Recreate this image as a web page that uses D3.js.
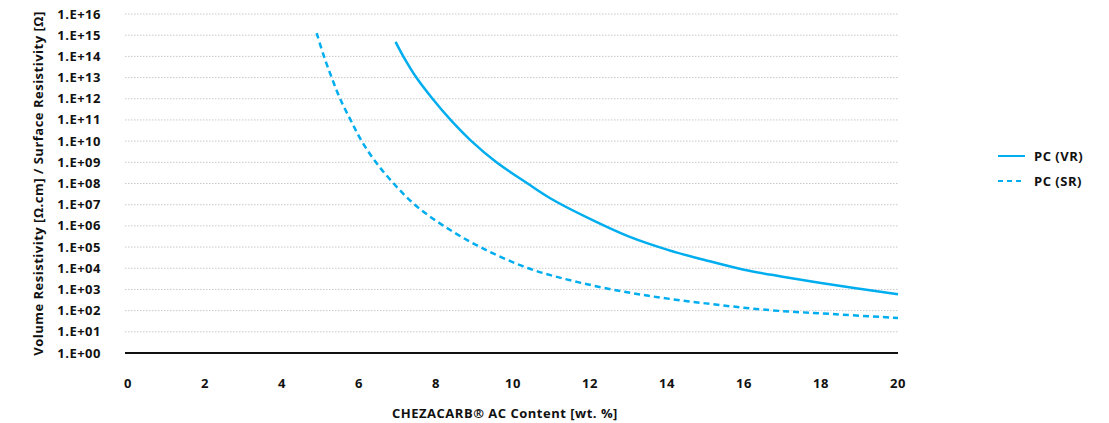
<!DOCTYPE html>
<html lang="en">

<head>
    <meta charset="UTF-8">
    <title>Resistivity</title>
    <script src="https://d3js.org/d3.v7.min.js"></script>
    <style>
        body { margin: 0; background: #fff; }
        text { font-family: "Open Sans", sans-serif; font-weight: 700; fill: #111; font-size: 13px; letter-spacing: 0.5px; }
    </style>
</head>

<body>
    <script>
        // wt.% content and read-off resistivity values
        var vrX = [6.95, 7.15, 7.49, 7.91, 8.38, 8.92, 9.57, 10.38, 11, 12, 13, 14, 15, 16, 17, 18, 19, 20];
        var vrY = [4.8e14, 1e14, 1e13, 1e12, 1e11, 1e10, 1e9, 1e8, 1.86e7, 2.14e6, 3.2e5, 7.6e4, 2.4e4, 8.5e3, 4e3, 2e3, 1.07e3, 5.9e2];
        var srX = [4.9, 5.09, 5.29, 5.51, 5.78, 6.07, 6.44, 6.9, 7.45, 8.2, 9.15, 10.4, 11.74, 13.3, 15, 16.68, 18.3, 20];
        var srY = [1.26e15, 1e14, 1e13, 1e12, 1e11, 1e10, 1e9, 1e8, 1e7, 1e6, 1e5, 1e4, 2.1e3, 5.8e2, 2.2e2, 1.05e2, 6.9e1, 4.5e1];
        var xTicks = [0, 2, 4, 6, 8, 10, 12, 14, 16, 18, 20];
        var yTicks = d3.range(0, 17).map(function (e) { return Math.pow(10, e); });
        var seriesNames = ["PC (VR)", "PC (SR)"];

        var width = 1109, height = 423;
        var mLeft = 128, mRight = 898, mTop = 14, mBottom = 353;
        var blue = "#00aeef";

        var svg = d3.select("body").append("svg")
            .attr("width", width)
            .attr("height", height);

        var x = d3.scaleLinear().domain([0, 20]).range([mLeft, mRight]);
        var y = d3.scaleLog().domain([1, 1e16]).range([mBottom, mTop]);

        // gridlines
        svg.append("g").selectAll("line")
            .data(yTicks.slice(1))
            .enter().append("line")
            .attr("x1", mLeft - 3).attr("x2", mRight)
            .attr("y1", d => y(d)).attr("y2", d => y(d))
            .attr("stroke", "#c8c8c8")
            .attr("stroke-dasharray", "1.5,1.5");

        // y tick labels
        svg.append("g").selectAll("text")
            .data(yTicks)
            .enter().append("text")
            .attr("x", 101)
            .attr("y", d => y(d))
            .attr("dy", "0.35em")
            .attr("text-anchor", "end")
            .text(d => "1.E+" + d3.format("02d")(Math.round(Math.log10(d))));

        // x tick labels
        svg.append("g").selectAll("text")
            .data(xTicks)
            .enter().append("text")
            .attr("x", d => x(d))
            .attr("y", 383)
            .attr("dy", "0.35em")
            .attr("text-anchor", "middle")
            .text(d => d);

        // bottom axis line
        svg.append("line")
            .attr("x1", mLeft - 3).attr("x2", mRight)
            .attr("y1", mBottom).attr("y2", mBottom)
            .attr("stroke", "#111")
            .attr("stroke-width", 2);

        var line = d3.line()
            .x(d => x(d[0]))
            .y(d => y(d[1]))
            .curve(d3.curveCatmullRom.alpha(0.5));

        svg.append("path")
            .datum(d3.zip(vrX, vrY))
            .attr("d", line)
            .attr("fill", "none")
            .attr("stroke", blue)
            .attr("stroke-width", 2.5);

        svg.append("path")
            .datum(d3.zip(srX, srY))
            .attr("d", line)
            .attr("fill", "none")
            .attr("stroke", blue)
            .attr("stroke-width", 2.5)
            .attr("stroke-dasharray", "6,4");

        // axis titles
        svg.append("text")
            .attr("transform", "translate(38," + ((mTop + mBottom) / 2) + ") rotate(-90)")
            .attr("dy", "0.35em")
            .attr("text-anchor", "middle")
            .text("Volume Resistivity [\u03A9.cm] / Surface Resistivity [\u03A9]");

        svg.append("text")
            .attr("x", 505)
            .attr("y", 413)
            .attr("dy", "0.35em")
            .attr("text-anchor", "middle")
            .text("CHEZACARB\u00AE AC Content [wt. %]");

        // legend
        var legend = svg.append("g").selectAll("g")
            .data(seriesNames)
            .enter().append("g")
            .attr("transform", (d, i) => "translate(998," + (156 + i * 25) + ")");
        legend.append("line")
            .attr("x1", 0).attr("x2", 27)
            .attr("stroke", blue)
            .attr("stroke-width", 2)
            .attr("stroke-dasharray", (d, i) => i ? "5,4" : null);
        legend.append("text")
            .attr("x", 36)
            .attr("dy", "0.35em")
            .text(d => d);
    </script>
</body>

</html>
